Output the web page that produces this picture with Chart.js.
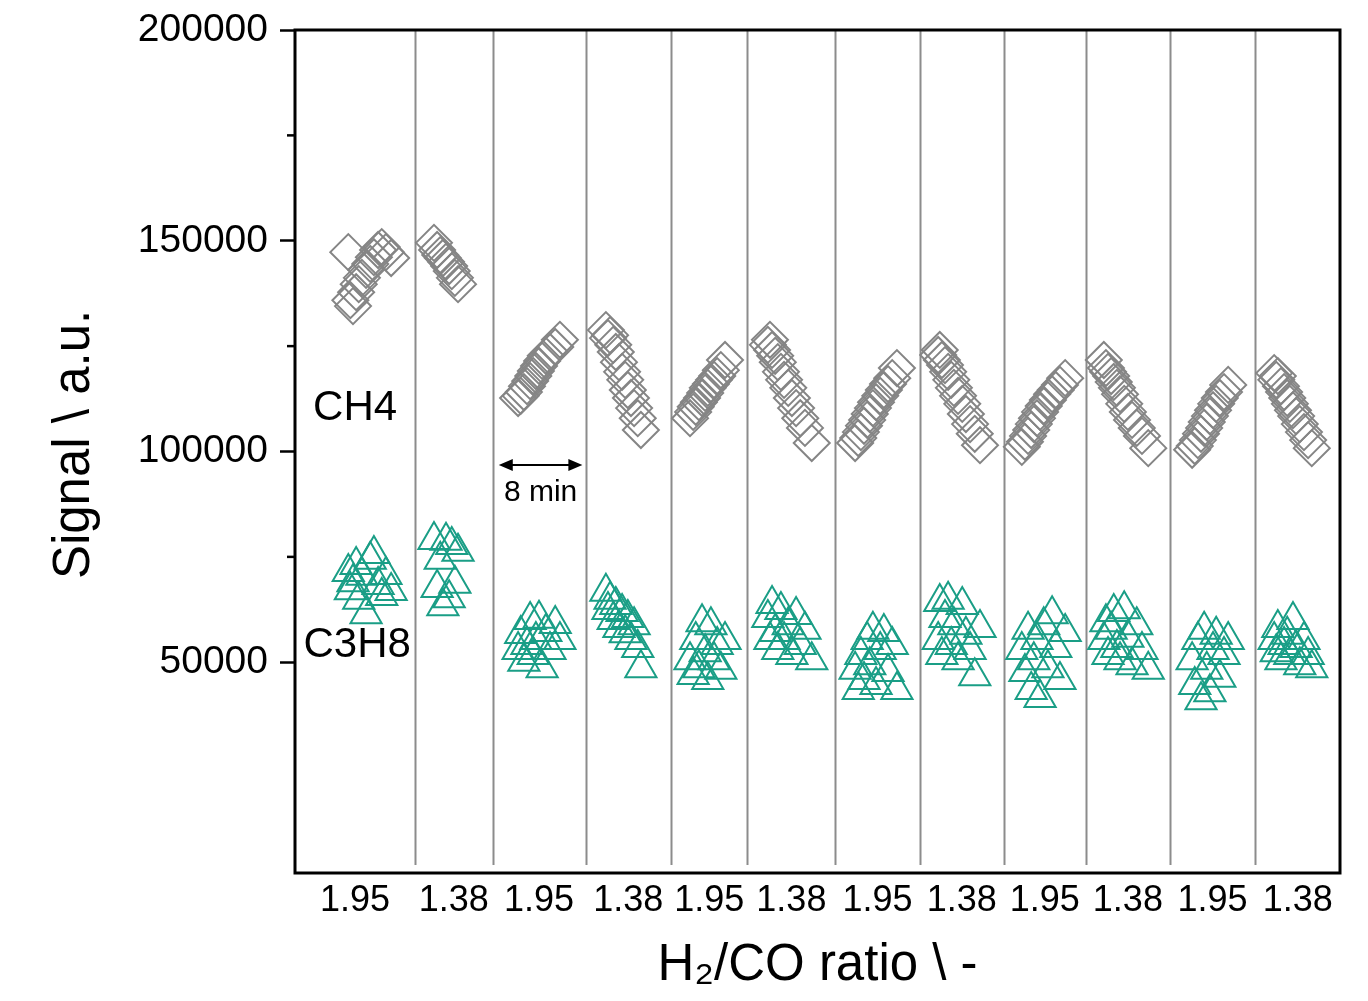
<!DOCTYPE html>
<html>
<head>
<meta charset="utf-8">
<script src="https://cdn.jsdelivr.net/npm/chart.js@4"></script>
<style>
  html, body { margin: 0; padding: 0; background: #fff; }
  #wrap { width: 1368px; height: 1001px; }
</style>
</head>
<body>
<div id="wrap"><canvas id="gcChart"></canvas></div>
<script>
// switching points between the two H2/CO feeds (min)
const segmentEdges = [0, 11.5, 18.9, 27.8, 36.0, 43.3, 51.7, 59.8, 67.8, 75.7, 83.7, 91.9, 100];
const ratioLabels = ['1.95', '1.38', '1.95', '1.38', '1.95', '1.38', '1.95', '1.38', '1.95', '1.38', '1.95', '1.38'];
const yTickStep = 25000;

// GC injection times (min), one row per feed period
const sampleTime = [
    5.1, 5.3, 5.55, 5.85, 6.1, 6.4, 6.8, 7.2, 7.55, 7.95, 8.3, 8.7, 9.2,
    13.3, 13.6, 13.9, 14.15, 14.45, 14.75, 15.0, 15.3, 15.6,
    21.35, 21.6, 21.9, 22.2, 22.5, 22.8, 23.05, 23.35, 23.65, 24.0, 24.4, 24.9, 25.35,
    29.75, 29.95, 30.15, 30.45, 30.7, 31.0, 31.3, 31.6, 31.85, 32.15, 32.45, 32.8, 33.1,
    37.8, 38.1, 38.35, 38.65, 38.95, 39.25, 39.5, 39.8, 40.1, 40.4, 40.75, 41.15,
    45.25, 45.45, 45.65, 45.95, 46.2, 46.5, 46.8, 47.2, 47.55, 47.95, 48.35, 48.8, 49.45,
    53.6, 53.9, 54.15, 54.45, 54.75, 55.0, 55.3, 55.6, 56.0, 56.35, 56.75, 57.15, 57.6,
    61.55, 61.7, 61.9, 62.2, 62.5, 62.8, 63.05, 63.45, 63.85, 64.2, 64.6, 65.05, 65.55,
    69.55, 69.85, 70.15, 70.45, 70.7, 71.0, 71.3, 71.65, 72.05, 72.45, 72.8, 73.2, 73.7,
    77.4, 77.6, 77.8, 78.1, 78.35, 78.65, 78.95, 79.35, 79.7, 80.1, 80.55, 81.05, 81.65,
    85.85, 86.1, 86.4, 86.7, 87.0, 87.25, 87.55, 87.85, 88.15, 88.5, 88.9, 89.3,
    93.7, 93.9, 94.05, 94.35, 94.65, 94.95, 95.2, 95.5, 95.8, 96.15, 96.55, 96.95, 97.3
];

const ch4Signal = [
    147300, 135900, 134500, 137800, 139700, 141200, 143100, 144500, 146100, 147800, 148500, 147300, 145900,
    149500, 147800, 146600, 145900, 145000, 144000, 142800, 141200, 139700,
    112700, 113200, 114100, 115500, 116700, 117900, 119100, 120300, 121500, 122700, 123600, 124800, 126500,
    128800, 126900, 127600, 125300, 123600, 121200, 118900, 117000, 114600, 112700, 110300, 107900, 105100,
    107900, 109400, 110600, 111700, 112700, 113900, 115100, 116000, 117000, 117900, 119300, 121700,
    125300, 126500, 124100, 122700, 121200, 118900, 117000, 115100, 112700, 110300, 107900, 105600, 102000,
    102000, 103200, 104600, 106100, 107500, 108900, 110300, 111700, 113200, 114600, 116000, 117400, 119800,
    122900, 124100, 121700, 120500, 118900, 117000, 115100, 113200, 111300, 108900, 106500, 104200, 101500,
    101100, 102300, 103700, 105100, 106500, 107900, 109400, 110800, 112200, 113600, 114600, 115800, 117400,
    121700, 119800, 118900, 117900, 116500, 115100, 113600, 111300, 109400, 107500, 105600, 103700, 100800,
    100400, 101300, 102700, 104200, 105600, 107000, 108400, 109800, 111300, 112700, 114100, 115800,
    118600, 117000, 117900, 115500, 114100, 112700, 111300, 109800, 108400, 106500, 104600, 102700, 100800
];

const c3h8Signal = [
    71400, 67100, 69000, 73100, 64800, 70500, 61400, 74300, 75700, 68300, 65700, 70700, 66900,
    79000, 67600, 74300, 63300, 78800, 65200, 77800, 68600, 76200,
    52900, 56700, 50100, 54100, 60000, 51700, 55300, 60300, 48600, 57200, 52900, 59100, 55300,
    66700, 62400, 64800, 60000, 63600, 58100, 61900, 56900, 60500, 55300, 58800, 53400, 48600,
    50500, 47000, 55300, 48600, 59500, 52400, 45800, 58800, 50500, 54100, 48200, 55300,
    60500, 55300, 63800, 57200, 52900, 62400, 55300, 58800, 51700, 61200, 54100, 57700, 50500,
    48200, 43400, 51700, 45800, 55300, 49300, 57700, 44600, 52900, 57200, 47700, 54100, 43400,
    55300, 64300, 51700, 60500, 64800, 54100, 58800, 50500, 63600, 56500, 52900, 46700, 58100,
    52900, 47700, 57700, 43400, 50500, 55300, 41500, 58800, 48600, 61400, 53400, 45800, 57200,
    55300, 59500, 51700, 57700, 61900, 53400, 50500, 62600, 55800, 49300, 58800, 52900, 48200,
    50500, 44600, 55300, 41000, 57700, 48200, 42900, 52900, 56500, 46300, 51700, 55300,
    55300, 52400, 58100, 50500, 54100, 56500, 51700, 60000, 53400, 49300, 55300, 51700, 48600
];

// species labels and the 8 min marker, in data units
const gasLabels = [
    { text: 'CH4', x: 5.75, y: 110300 },
    { text: 'C3H8', x: 5.95, y: 54100 }
];
const spanMarker = { from: 19.5, to: 27.5, y: 96800, text: '8 min', textY: 90200 };

const FONT = "'Liberation Sans', Arial, sans-serif";

const segmentCenters = segmentEdges.slice(0, -1).map((e, i) => (e + segmentEdges[i + 1]) / 2);

const decorations = {
    id: 'decorations',
    beforeDatasetsDraw(chart) {
        const { ctx, chartArea, scales: { x } } = chart;
        ctx.save();
        ctx.strokeStyle = '#8c8c8c';
        ctx.lineWidth = 2;
        for (let i = 1; i < segmentEdges.length - 1; i++) {
            const px = Math.round(x.getPixelForValue(segmentEdges[i])) + 0.5;
            ctx.beginPath();
            ctx.moveTo(px, chartArea.top);
            ctx.lineTo(px, chartArea.bottom - 8);
            ctx.stroke();
        }
        ctx.restore();
    },
    afterDraw(chart) {
        const { ctx, chartArea, scales: { x, y } } = chart;
        ctx.save();

        // frame
        ctx.strokeStyle = '#000';
        ctx.lineWidth = 3;
        ctx.strokeRect(chartArea.left, chartArea.top, chartArea.right - chartArea.left, chartArea.bottom - chartArea.top);

        // minor ticks on the y axis
        ctx.lineWidth = 2.5;
        [75000, 125000, 175000].forEach(v => {
            const py = y.getPixelForValue(v);
            ctx.beginPath();
            ctx.moveTo(chartArea.left - 8, py);
            ctx.lineTo(chartArea.left, py);
            ctx.stroke();
        });

        // gas names
        ctx.fillStyle = '#000';
        ctx.textAlign = 'center';
        ctx.textBaseline = 'middle';
        ctx.font = '42px ' + FONT;
        gasLabels.forEach(l => ctx.fillText(l.text, x.getPixelForValue(l.x), y.getPixelForValue(l.y)));

        // double arrow showing one period
        const x1 = x.getPixelForValue(spanMarker.from);
        const x2 = x.getPixelForValue(spanMarker.to);
        const ay = y.getPixelForValue(spanMarker.y);
        ctx.lineWidth = 2;
        ctx.beginPath();
        ctx.moveTo(x1 + 10, ay);
        ctx.lineTo(x2 - 10, ay);
        ctx.stroke();
        ctx.beginPath();
        ctx.moveTo(x1, ay); ctx.lineTo(x1 + 14, ay - 6); ctx.lineTo(x1 + 14, ay + 6); ctx.closePath();
        ctx.moveTo(x2, ay); ctx.lineTo(x2 - 14, ay - 6); ctx.lineTo(x2 - 14, ay + 6); ctx.closePath();
        ctx.fill();
        ctx.font = '30px ' + FONT;
        ctx.fillText(spanMarker.text, (x1 + x2) / 2, y.getPixelForValue(spanMarker.textY));

        ctx.restore();
    }
};

new Chart(document.getElementById('gcChart'), {
    type: 'scatter',
    data: {
        datasets: [
            {
                label: 'CH4',
                data: sampleTime.map((t, i) => ({ x: t, y: ch4Signal[i] })),
                pointStyle: 'rectRot',
                pointRadius: 18,
                pointBorderWidth: 2,
                borderColor: '#858585',
                backgroundColor: 'rgba(0,0,0,0)'
            },
            {
                label: 'C3H8',
                data: sampleTime.map((t, i) => ({ x: t, y: c3h8Signal[i] })),
                pointStyle: 'triangle',
                pointRadius: 18,
                pointBorderWidth: 2,
                borderColor: '#1a9e86',
                backgroundColor: 'rgba(0,0,0,0)'
            }
        ]
    },
    options: {
        responsive: true,
        maintainAspectRatio: false,
        animation: false,
        layout: { padding: { top: 30, right: 28, left: 0, bottom: 0 } },
        plugins: {
            legend: { display: false },
            tooltip: { enabled: false }
        },
        scales: {
            x: {
                type: 'linear',
                min: 0,
                max: 100,
                afterBuildTicks: scale => {
                    scale.ticks = segmentCenters.map(v => ({ value: v }));
                },
                afterFit: scale => {
                    scale.height = 128;
                    scale.paddingLeft = 0;
                    scale.paddingRight = 0;
                },
                grid: { display: false, drawTicks: false },
                border: { display: false },
                ticks: {
                    autoSkip: false,
                    maxRotation: 0,
                    padding: 6,
                    color: '#000',
                    font: { family: FONT, size: 36 },
                    callback: (value, index) => ratioLabels[index]
                },
                title: {
                    display: true,
                    text: 'H\u2082/CO ratio \\ -',
                    color: '#000',
                    font: { family: FONT, size: 51 },
                    padding: { top: 0, bottom: 4 }
                }
            },
            y: {
                min: 0,
                max: 200000,
                afterFit: scale => {
                    scale.width = 295;
                    scale.paddingTop = 0;
                    scale.paddingBottom = 0;
                },
                grid: {
                    drawOnChartArea: false,
                    drawTicks: true,
                    tickLength: 15,
                    tickWidth: 2.5,
                    tickColor: c => (c.tick && c.tick.value % 50000 === 0 && c.tick.value !== 0) ? '#000' : 'rgba(0,0,0,0)'
                },
                border: { display: false },
                ticks: {
                    stepSize: yTickStep,
                    padding: 12,
                    color: '#000',
                    font: { family: FONT, size: 39 },
                    callback: v => (v % 50000 === 0 && v !== 0) ? String(v) : ''
                },
                title: {
                    display: true,
                    text: ' Signal \\ a.u.',
                    color: '#000',
                    font: { family: FONT, size: 51 },
                    padding: { top: 44, bottom: 0 }
                }
            }
        }
    },
    plugins: [decorations]
});
</script>
</body>
</html>
